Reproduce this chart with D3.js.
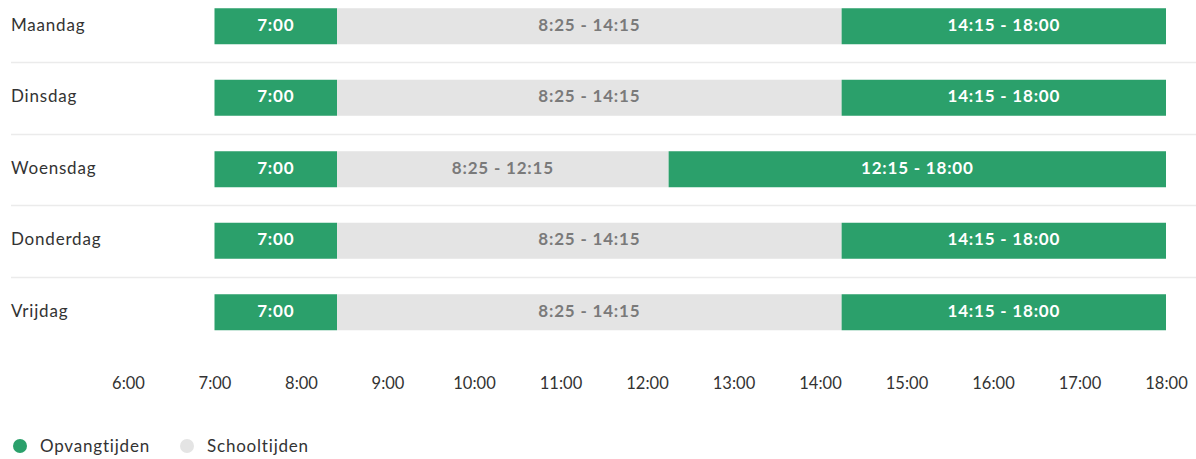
<!DOCTYPE html>
<html><head><meta charset="utf-8">
<script src="https://cdn.jsdelivr.net/npm/d3@7"></script>
<style>body{margin:0;background:#fff;}svg{display:block;font-family:Lato,"Open Sans",sans-serif;}</style>
</head><body><svg id="c" width="1196" height="459"></svg>
<script>
const days = ["Maandag","Dinsdag","Woensdag","Donderdag","Vrijdag"];
const opvangOchtendStart = [7,7,7,7,7];
const schoolStart = [8+25/60,8+25/60,8+25/60,8+25/60,8+25/60];
const schoolEnd = [14.25,14.25,12.25,14.25,14.25];
const opvangMiddagEnd = [18,18,18,18,18];
const ochtendLabels = ["7:00","7:00","7:00","7:00","7:00"];
const schoolLabels = ["8:25 - 14:15","8:25 - 14:15","8:25 - 12:15","8:25 - 14:15","8:25 - 14:15"];
const middagLabels = ["14:15 - 18:00","14:15 - 18:00","12:15 - 18:00","14:15 - 18:00","14:15 - 18:00"];
const tickValues = [6,7,8,9,10,11,12,13,14,15,16,17,18];
const tickLabels = ["6:00","7:00","8:00","9:00","10:00","11:00","12:00","13:00","14:00","15:00","16:00","17:00","18:00"];
const legendItems = ["Opvangtijden","Schooltijden"];

const GREEN = "#2ba06b", GRAY = "#e4e4e4";
const svg = d3.select("#c");
const x = d3.scaleLinear().domain([6,18]).range([128,1166]);
const y = d3.scaleBand().domain(days).range([-9.5, 348]).paddingInner(0).paddingOuter(0);
const barH = 36;

const segs = [];
days.forEach((d,i)=>{
  segs.push({day:d, a:opvangOchtendStart[i], b:schoolStart[i], fill:GREEN, label:ochtendLabels[i], tc:"#fff"});
  segs.push({day:d, a:schoolStart[i], b:schoolEnd[i], fill:GRAY, label:schoolLabels[i], tc:"#7a7a7a"});
  segs.push({day:d, a:schoolEnd[i], b:opvangMiddagEnd[i], fill:GREEN, label:middagLabels[i], tc:"#fff"});
});

// separators
svg.append("g").selectAll("line").data(days.slice(1)).join("line")
  .attr("x1",11).attr("x2",1196)
  .attr("y1",d=>Math.round(y(d))+0.5).attr("y2",d=>Math.round(y(d))+0.5)
  .attr("stroke","#ebebeb").attr("stroke-width",1.5);

const cy = d => y(d)+y.bandwidth()/2;

svg.append("g").selectAll("text").data(days).join("text")
  .attr("x",11).attr("y",d=>cy(d)-1.5).attr("dy","0.35em")
  .attr("font-size",17).attr("letter-spacing",0.8).attr("fill","#333").text(d=>d);

svg.append("g").selectAll("rect").data(segs).join("rect")
  .attr("x",d=>x(d.a)).attr("width",d=>x(d.b)-x(d.a))
  .attr("y",d=>cy(d.day)-barH/2).attr("height",barH)
  .attr("fill",d=>d.fill);

svg.append("g").selectAll("text").data(segs).join("text")
  .attr("x",d=>(x(d.a)+x(d.b))/2).attr("y",d=>cy(d.day)-1.5).attr("dy","0.35em")
  .attr("text-anchor","middle").attr("font-size",17).attr("font-weight","bold").attr("letter-spacing",0.8)
  .attr("fill",d=>d.tc).text(d=>d.label);

// axis
const ax = svg.append("g").attr("transform","translate(0,374)")
  .call(d3.axisBottom(x).tickValues(tickValues).tickFormat((d,i)=>tickLabels[i]).tickSize(0).tickPadding(0));
ax.select(".domain").remove();
ax.selectAll("text").attr("font-size",16.5).attr("fill","#333").attr("font-family","Lato,'Open Sans',sans-serif").attr("dy","0.9em");

// legend
const leg = svg.append("g").attr("transform","translate(0,446)");
const lx = [20,187];
const lc = [GREEN, GRAY];
leg.selectAll("circle").data(legendItems).join("circle")
  .attr("cx",(d,i)=>lx[i]).attr("cy",0).attr("r",7).attr("fill",(d,i)=>lc[i]);
leg.selectAll("text").data(legendItems).join("text")
  .attr("x",(d,i)=>lx[i]+20).attr("y",0).attr("dy","0.35em")
  .attr("font-size",17).attr("letter-spacing",0.8).attr("fill","#333").text(d=>d);
</script></body></html>
